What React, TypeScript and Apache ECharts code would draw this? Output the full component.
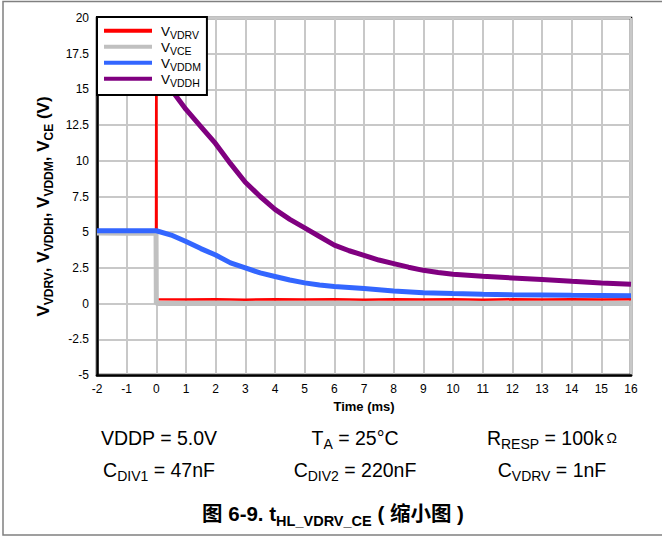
import React, { useEffect, useRef } from "react";
import * as echarts from "echarts";

// Time axis (ms) and voltage axis (V) ticks
const xTicks = { min: -2, max: 16, interval: 1 };
const yTicks = { min: -5, max: 20, interval: 2.5 };

const seriesNames = ["VDRV", "VCE", "VDDM", "VDDH"];
const seriesColors = ["#ff0000", "#c0c0c0", "#3366ff", "#800080"];

// [time ms, volts]
const vdrv: number[][] = [
  [-2, 5.0], [-0.01, 5.0], [0, 20], [0.01, 0.3], [1, 0.28], [2, 0.3], [3, 0.27],
  [4, 0.3], [5, 0.28], [6, 0.3], [7, 0.27], [8, 0.3], [9, 0.28], [10, 0.3],
  [11, 0.27], [12, 0.3], [13, 0.28], [14, 0.3], [15, 0.28], [16, 0.3],
];
const vce: number[][] = [
  [-2, 4.95], [-1, 4.93], [-0.01, 4.95], [0, 0.0], [2, 0.02], [4, 0.0], [6, 0.02],
  [8, 0.0], [10, 0.02], [12, 0.0], [14, 0.02], [16, 0.0],
];
const vddm: number[][] = [
  [-2, 5.1], [-1, 5.1], [0, 5.1], [0.5, 4.8], [1, 4.35], [1.5, 3.85], [2, 3.4],
  [2.5, 2.85], [3, 2.5], [3.5, 2.15], [4, 1.9], [4.5, 1.65], [5, 1.45], [5.5, 1.3],
  [6, 1.2], [7, 1.05], [8, 0.88], [9, 0.76], [10, 0.7], [11, 0.65], [12, 0.62],
  [13, 0.6], [14, 0.58], [15, 0.57], [16, 0.55],
];
const vddh: number[][] = [
  [0, 16.3], [0.5, 15.0], [1, 13.6], [1.5, 12.4], [2, 11.2], [2.5, 9.8], [3, 8.5],
  [3.5, 7.5], [4, 6.6], [4.5, 5.9], [5, 5.3], [5.5, 4.7], [6, 4.1], [6.5, 3.7],
  [7, 3.38], [7.5, 3.05], [8, 2.8], [8.5, 2.55], [9, 2.33], [9.5, 2.18], [10, 2.05],
  [11, 1.92], [12, 1.8], [13, 1.68], [14, 1.56], [15, 1.45], [16, 1.35],
];
const seriesData = [vdrv, vce, vddm, vddh];
const lineWidths = [2.5, 5, 5, 5];

const xTitle = "Time (ms)";
const yTitleRich = "{m|V}{s|VDRV}{m|, V}{s|VDDH}{m|, V}{s|VDDM}{m|, V}{s|CE}{m| (V)}";

const conditionsRow1 = ["{m|VDDP = 5.0V}", "{m|T}{s|A}{m| = 25°C}", "{m|R}{s|RESP}{m| = 100k}{o|Ω}"];
const conditionsRow2 = ["{m|C}{s|DIV1}{m| = 47nF}", "{m|C}{s|DIV2}{m| = 220nF}", "{m|C}{s|VDRV}{m| = 1nF}"];
const captionRich = "{b|图 6-9. t}{bs|HL_VDRV_CE}{b| ( 缩小图 )}";

const FONT = "'Liberation Sans', Arial, sans-serif";

export default function App() {
  const ref = useRef<HTMLDivElement>(null);
  useEffect(() => {
    if (!ref.current) return;
    const chart = echarts.init(ref.current, undefined, { renderer: "svg" });
    const condRich = {
      m: { fontSize: 19.5, fontFamily: FONT, color: "#000", lineHeight: 19.5, verticalAlign: "top" },
      s: { fontSize: 14, fontFamily: FONT, color: "#000", lineHeight: 14, padding: [9, 0, 0, 0], verticalAlign: "top" },
      o: { fontSize: 14, fontFamily: FONT, color: "#000", lineHeight: 14, padding: [3, 0, 0, 3], verticalAlign: "top" },
    };
    const colX = [159, 355, 552];
    const graphics: any[] = [
      {
        type: "rect",
        silent: true,
        shape: { x: 3, y: 1.5, width: 700, height: 533.5 },
        style: { fill: "none", stroke: "#808080", lineWidth: 1.5 },
        z: 0,
      },
    ];
    conditionsRow1.forEach((t, i) => {
      graphics.push({
        type: "text",
        x: colX[i],
        y: 438,
        style: { text: t, rich: condRich, align: "center", verticalAlign: "middle" },
      });
    });
    conditionsRow2.forEach((t, i) => {
      graphics.push({
        type: "text",
        x: colX[i],
        y: 470,
        style: { text: t, rich: condRich, align: "center", verticalAlign: "middle" },
      });
    });
    graphics.push({
      type: "text",
      x: 333,
      y: 514,
      style: {
        text: captionRich,
        align: "center",
        verticalAlign: "middle",
        rich: {
          b: { fontSize: 20.5, fontWeight: "bold", fontFamily: "'Liberation Sans', 'Noto Sans CJK SC', sans-serif", color: "#000", lineHeight: 21, verticalAlign: "top" },
          bs: { fontSize: 14.5, fontWeight: "bold", fontFamily: FONT, color: "#000", lineHeight: 14.5, padding: [10, 0, 0, 0], verticalAlign: "top" },
        },
      },
    });

    chart.setOption({
      animation: false,
      backgroundColor: "#fff",
      grid: {
        left: 97,
        right: 31,
        top: 18,
        bottom: 162,
        show: true,
        borderColor: "#000",
        borderWidth: 2.5,
        backgroundColor: "transparent",
      },
      legend: {
        orient: "vertical",
        left: 97,
        top: 17,
        backgroundColor: "#fff",
        borderColor: "#000",
        borderWidth: 2,
        borderRadius: 0,
        padding: [7, 6, 7, 7],
        itemGap: 0,
        itemWidth: 48,
        itemHeight: 4,
        icon: "rect",
        data: seriesNames,
        formatter: (name: string) => `{m|V}{s|${name}}`,
        textStyle: {
          color: "#000",
          fontFamily: FONT,
          padding: [0, 0, 0, 4],
          rich: {
            m: { fontSize: 13.5, lineHeight: 13.5, verticalAlign: "top", fontFamily: FONT, color: "#000" },
            s: { fontSize: 10.5, lineHeight: 10.5, padding: [5, 0, 0, 0], verticalAlign: "top", fontFamily: FONT, color: "#000" },
          },
        },
        z: 10,
      },
      xAxis: {
        type: "value",
        min: xTicks.min,
        max: xTicks.max,
        interval: xTicks.interval,
        name: xTitle,
        nameLocation: "middle",
        nameGap: 25,
        nameTextStyle: { fontSize: 13, fontWeight: "bold", color: "#000", fontFamily: FONT },
        axisLine: { show: true, onZero: false, lineStyle: { color: "#000", width: 2.5 } },
        axisTick: { show: false },
        axisLabel: { color: "#000", fontSize: 12, fontFamily: FONT, margin: 8 },
        splitLine: { show: true, lineStyle: { color: "#c8c8c8", width: 2 } },
      },
      yAxis: {
        type: "value",
        min: yTicks.min,
        max: yTicks.max,
        interval: yTicks.interval,
        name: yTitleRich,
        nameLocation: "middle",
        nameGap: 44,
        nameRotate: 90,
        nameTextStyle: {
          padding: [0, 20, 0, 0],
          rich: {
            m: { fontSize: 17, fontWeight: "bold", color: "#000", fontFamily: FONT, lineHeight: 17, verticalAlign: "top" },
            s: { fontSize: 12, fontWeight: "bold", color: "#000", fontFamily: FONT, lineHeight: 12, padding: [8, 0, 0, 0], verticalAlign: "top" },
          },
        },
        axisLine: { show: true, onZero: false, lineStyle: { color: "#000", width: 2.5 } },
        axisTick: { show: false },
        axisLabel: { color: "#000", fontSize: 12, fontFamily: FONT, margin: 8 },
        splitLine: { show: true, lineStyle: { color: "#c8c8c8", width: 2 } },
      },
      series: seriesNames.map((name, i) => ({
        name,
        type: "line",
        data: seriesData[i],
        showSymbol: false,
        symbol: "none",
        color: seriesColors[i],
        lineStyle: { color: seriesColors[i], width: lineWidths[i] },
        z: 2,
      })),
      graphic: graphics,
    });
    return () => chart.dispose();
  }, []);
  return (
    <div
      ref={ref}
      style={{ position: "fixed", left: 0, top: 0, width: 662, height: 537 }}
    />
  );
}
